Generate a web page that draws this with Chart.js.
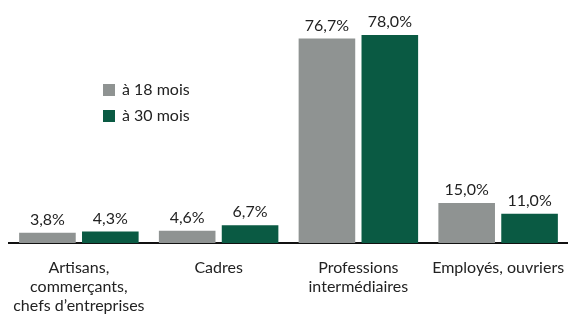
<!DOCTYPE html>
<html>
<head>
<meta charset="utf-8">
<script src="https://cdn.jsdelivr.net/npm/chart.js@4"></script>
<style>
  html, body { margin:0; padding:0; background:#fff; }
  #wrap { width:568px; height:314px; }
</style>
</head>
<body>
<div id="wrap"><canvas id="chart"></canvas></div>
<script>
const categories = [['Artisans,','commerçants,','chefs d\u2019entreprises'], 'Cadres', ['Professions','intermédiaires'], 'Employés, ouvriers'];
const seriesNames = ['à 18 mois', 'à 30 mois'];
const at18 = [3.8, 4.6, 76.7, 15.0];
const at30 = [4.3, 6.7, 78.0, 11.0];
const colors = ['#8f9392', '#0a5a43'];

const FONT = 'Lato, "Open Sans", sans-serif';
const fmt = v => v.toFixed(1).replace('.', ',') + '%';

// value labels above bars
const valueLabels = {
    id: 'valueLabels',
    afterDatasetsDraw(chart) {
        const ctx = chart.ctx;
        ctx.save();
        ctx.font = '16px ' + FONT;
        ctx.fillStyle = '#222';
        ctx.textAlign = 'center';
        ctx.textBaseline = 'bottom';
        chart.data.datasets.forEach((ds, i) => {
            chart.getDatasetMeta(i).data.forEach((bar, j) => {
                ctx.fillText(fmt(ds.data[j]), bar.x, bar.y - 5);
            });
        });
        ctx.restore();
    }
};

// legend in the upper left
const sideLegend = {
    id: 'sideLegend',
    afterDraw(chart) {
        const ctx = chart.ctx;
        ctx.save();
        ctx.font = '16px ' + FONT;
        ctx.textBaseline = 'middle';
        chart.data.datasets.forEach((ds, i) => {
            const y = 90 + i * 26;
            ctx.fillStyle = ds.backgroundColor;
            ctx.fillRect(103, y - 6, 12, 12);
            ctx.fillStyle = '#222';
            ctx.fillText(ds.label, 122, y);
        });
        ctx.restore();
    }
};

new Chart(document.getElementById('chart'), {
    type: 'bar',
    data: {
        labels: categories,
        datasets: [
            { label: seriesNames[0], data: at18, backgroundColor: colors[0], barPercentage: 0.9, categoryPercentage: 0.9 },
            { label: seriesNames[1], data: at30, backgroundColor: colors[1], barPercentage: 0.9, categoryPercentage: 0.9 }
        ]
    },
    options: {
        responsive: true, maintainAspectRatio: false, animation: false,
        layout: { padding: { left: 9, right: 0, top: 3, bottom: 0 } },
        plugins: { legend: { display: false }, tooltip: { enabled: false } },
        scales: {
            x: {
                grid: { display: false, drawTicks: false },
                border: { display: true, color: '#111', width: 2 },
                ticks: { color: '#222', font: { family: FONT, size: 16, lineHeight: 1.19 }, padding: 15, maxRotation: 0, autoSkip: false },
                afterFit(scale) {
                    scale.height = 71;
                    scale.paddingLeft = 0;
                    scale.paddingRight = 0;
                }
            },
            y: { display: false, min: 0, max: 90 }
        }
    },
    plugins: [valueLabels, sideLegend]
});
</script>
</body>
</html>
